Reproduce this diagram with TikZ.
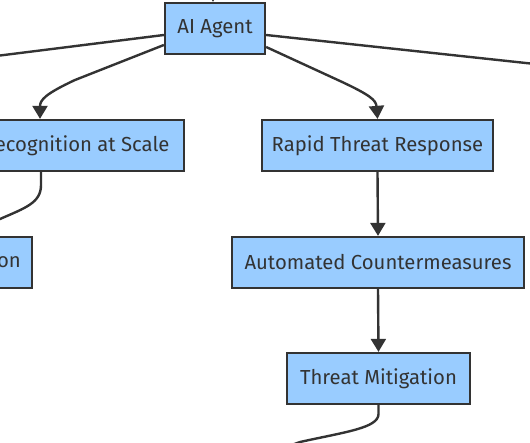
\documentclass[tikz,border=0pt]{standalone}
\usepackage{fontspec}
\setmainfont{Fira Sans}
\usetikzlibrary{arrows.meta,calc}
\definecolor{boxfill}{RGB}{153,204,255}
\definecolor{edge}{RGB}{51,51,51}
\begin{document}
\begin{tikzpicture}[x=1pt,y=1pt,
  box/.style={draw=edge,fill=boxfill,line width=2.3pt,minimum height=51pt,inner sep=0pt,text=edge,font=\fontsize{20.3}{24}\selectfont},
  link/.style={draw=edge,line width=2.4pt},
  arr/.style={link,-{Triangle[width=15pt,length=13pt]}}]
\useasboundingbox (0,0) rectangle (530,-442);
\clip (0,0) rectangle (530,-442);
\node[box,minimum width=100pt] (ai) at (215,-28.5) {AI Agent};
\node[box,minimum width=288pt] (pr) at (40,-145.5) {Pattern Recognition at Scale};
\node[box,minimum width=231pt] (rt) at (377.5,-145.5) {Rapid Threat Response};
\node[box,minimum width=292pt] (ac) at (378,-262.5) {Automated Countermeasures};
\node[box,minimum width=183pt] (tm) at (378.5,-378.5) {Threat Mitigation};
\node[box,anchor=east,text width=78pt,align=right,inner xsep=11pt] (ev) at (33,-262.5) {on};
\coordinate (top) at (213,20);
\coordinate (lft) at (-60,-63);
\coordinate (rgt) at (600,-71);
\coordinate (evin) at (-60,-237);
\coordinate (bot) at (250,-460);
\draw[arr] (top) -- (ai.north -| top);
\draw[link] (ai.west |- 0,-35) -- (lft);
\draw[link] (ai.east |- 0,-35) -- (rgt);
\draw[arr] (ai.west |- 0,-45) -- (75,-80) .. controls (45,-94) and (40,-100) .. (pr.north -| 40,0);
\draw[arr] (ai.east |- 0,-47) -- (340,-81) .. controls (370,-95) and (376,-100) .. (rt.north);
\draw[link] (pr.south -| 41,0) -- (41,-185) .. controls (41,-203) and (25,-208) .. (0,-219) -- (evin);
\draw[arr] (rt.south) -- (ac.north);
\draw[arr] (ac.south) -- (tm.north);
\draw[link] (tm.south) -- (378.5,-414) .. controls (378.5,-428) and (345,-432) .. (300,-442) -- (bot);
\end{tikzpicture}
\end{document}
